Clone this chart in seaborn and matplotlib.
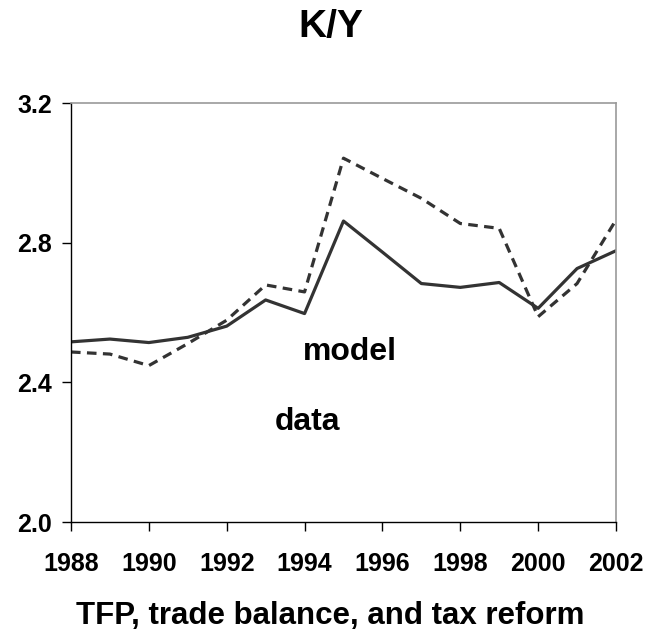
import numpy as np
import pandas as pd
import matplotlib
matplotlib.use("Agg")
import matplotlib.pyplot as plt
import seaborn as sns

years = list(range(1988, 2003))
model = [2.516, 2.524, 2.514, 2.529, 2.561, 2.636, 2.597, 2.862,
         2.773, 2.683, 2.672, 2.686, 2.612, 2.726, 2.777]
data = [2.487, 2.481, 2.448, 2.511, 2.578, 2.679, 2.659, 3.042,
        2.984, 2.927, 2.855, 2.841, 2.588, 2.683, 2.865]
x_ticks = list(range(1988, 2003, 2))
y_ticks = [2.0, 2.4, 2.8, 3.2]

sns.set_style("white")
plt.rcParams["font.family"] = ["Liberation Sans", "DejaVu Sans"]
plt.rcParams["font.weight"] = "bold"
plt.rcParams["text.color"] = "black"
plt.rcParams["axes.labelcolor"] = "black"
plt.rcParams["xtick.color"] = "black"
plt.rcParams["ytick.color"] = "black"

df = pd.DataFrame({"year": years, "model": model, "data": data})

fig = plt.figure(figsize=(6.61, 6.32), dpi=100)
ax = fig.add_axes([0.1074, 0.174, 0.8245, 0.663])

line_color = "#333333"
sns.lineplot(data=df, x="year", y="data", ax=ax, color=line_color,
             linewidth=2.3, linestyle=(0, (3, 2)))
sns.lineplot(data=df, x="year", y="model", ax=ax, color=line_color,
             linewidth=2.3)

ax.set_xlim(1988, 2002)
ax.set_ylim(2.0, 3.2)
ax.set_xticks(x_ticks)
ax.set_yticks(y_ticks)
ax.set_yticklabels([f"{v:.1f}" for v in y_ticks])

ax.tick_params(axis="both", direction="out", length=6.5, width=1,
               color="black", labelsize=18, bottom=True, left=True)
ax.tick_params(axis="x", pad=15)
ax.tick_params(axis="y", pad=7)
for lab in ax.get_xticklabels() + ax.get_yticklabels():
    lab.set_fontweight("bold")

for side in ["left", "bottom"]:
    ax.spines[side].set_color("black")
    ax.spines[side].set_linewidth(1)
for side in ["top", "right"]:
    ax.spines[side].set_color("#999999")
    ax.spines[side].set_linewidth(1.2)

# x label sits centred on the figure, near the bottom edge
ax.set_xlabel("TFP, trade balance, and tax reform", fontsize=22.5,
              fontweight="bold", color="black")
ax.xaxis.label.set_va("baseline")
ax.xaxis.set_label_coords(0.476, -0.243)
ax.set_ylabel("")
fig.text(0.5, 1 - 27 / 632, "K/Y", fontsize=28, fontweight="bold",
         ha="center", va="center")

ax.text(1993.96, 2.464, "model", fontsize=23, fontweight="bold",
        ha="left", va="baseline")
ax.text(1993.24, 2.263, "data", fontsize=23, fontweight="bold",
        ha="left", va="baseline")

fig.savefig("out.png", dpi=100)
